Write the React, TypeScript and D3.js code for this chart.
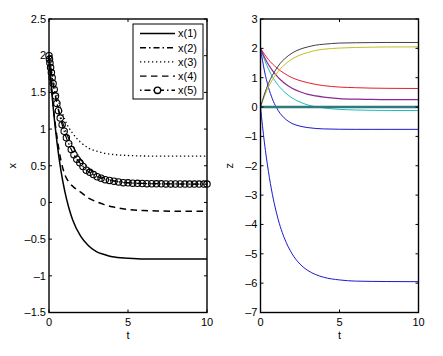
import React from 'react';
import * as d3 from 'd3';

// time grid for the smooth curves
const T = [0, 0.25, 0.5, 0.75, 1, 1.25, 1.5, 2, 2.5, 3, 3.5, 4, 5, 6, 7, 8, 10];

// left panel: x(1)..x(5)
const x1 = [2.0, 1.33, 0.83, 0.44, 0.15, -0.07, -0.24, -0.46, -0.59, -0.67, -0.71, -0.74, -0.76, -0.77, -0.77, -0.77, -0.77];
const x2 = [2.0, 1.62, 1.36, 1.16, 1.01, 0.87, 0.77, 0.59, 0.47, 0.38, 0.33, 0.30, 0.27, 0.26, 0.255, 0.252, 0.25];
const x3 = [2.0, 1.7, 1.46, 1.28, 1.13, 1.02, 0.94, 0.82, 0.74, 0.7, 0.67, 0.655, 0.64, 0.633, 0.63, 0.63, 0.63];
const x4 = [2.0, 1.35, 0.9, 0.58, 0.38, 0.28, 0.22, 0.14, 0.06, 0.01, -0.03, -0.06, -0.095, -0.11, -0.117, -0.12, -0.12];

// x(5) marker samples (solver steps)
const x5T = [0, 0.03, 0.06, 0.1, 0.15, 0.2, 0.26, 0.33, 0.41, 0.5, 0.6, 0.71, 0.83, 0.96, 1.1, 1.25, 1.41, 1.58, 1.76, 1.95, 2.15, 2.36, 2.58, 2.81, 3.05, 3.3, 3.56, 3.83, 4.11, 4.4, 4.7, 5.0, 5.3, 5.6, 5.9, 6.2, 6.5, 6.8, 7.1, 7.4, 7.7, 8.0, 8.3, 8.6, 8.9, 9.2, 9.5, 9.8, 10];
const x5 = [2.0, 1.95, 1.9, 1.84, 1.77, 1.7, 1.62, 1.54, 1.45, 1.35, 1.25, 1.15, 1.06, 0.97, 0.88, 0.8, 0.72, 0.65, 0.59, 0.54, 0.49, 0.44, 0.41, 0.38, 0.35, 0.33, 0.31, 0.3, 0.29, 0.28, 0.27, 0.267, 0.263, 0.26, 0.258, 0.256, 0.255, 0.254, 0.253, 0.252, 0.252, 0.251, 0.251, 0.25, 0.25, 0.25, 0.25, 0.25, 0.25];

// right panel: z components
const zGray = [0, 0.44, 0.8, 1.08, 1.3, 1.49, 1.63, 1.84, 1.97, 2.05, 2.11, 2.14, 2.18, 2.19, 2.196, 2.2, 2.2];
const zYellow = [0, 0.37, 0.68, 0.93, 1.13, 1.3, 1.43, 1.64, 1.77, 1.86, 1.93, 1.97, 2.01, 2.03, 2.04, 2.047, 2.05];
const zRed = [2.0, 1.8, 1.62, 1.47, 1.35, 1.24, 1.15, 1.0, 0.9, 0.83, 0.77, 0.73, 0.68, 0.66, 0.645, 0.638, 0.632];
const zPurple = [2.0, 1.7, 1.45, 1.25, 1.08, 0.94, 0.82, 0.64, 0.52, 0.43, 0.38, 0.34, 0.29, 0.27, 0.26, 0.254, 0.251];
const zCyan = [2.0, 1.62, 1.3, 1.04, 0.83, 0.66, 0.52, 0.31, 0.17, 0.07, 0.01, -0.03, -0.08, -0.1, -0.112, -0.116, -0.12];
const zBlue1 = [2.0, 1.23, 0.68, 0.28, -0.01, -0.22, -0.37, -0.56, -0.65, -0.7, -0.73, -0.745, -0.756, -0.76, -0.76, -0.76, -0.76];
const zBlue2 = [0, -1.22, -2.19, -2.97, -3.58, -4.07, -4.45, -5.0, -5.35, -5.57, -5.71, -5.8, -5.89, -5.93, -5.94, -5.945, -5.95];
const zZero = [0, 0, 0, 0, 0, 0, 0, 0, 0, 0, 0, 0, 0, 0, 0, 0, 0];

const xTicks = [0, 5, 10];
const leftYTicks = [2.5, 2, 1.5, 1, 0.5, 0, -0.5, -1, -1.5];
const rightYTicks = [3, 2, 1, 0, -1, -2, -3, -4, -5, -6, -7];
const legendLabels = ['x(1)', 'x(2)', 'x(3)', 'x(4)', 'x(5)'];

const FONT = "'Liberation Sans', Arial, sans-serif";
const FS = 11;

function fmt(v: number) {
  const s = String(Math.abs(v));
  return v < 0 ? '\u2013' + s : s;
}

function Axes({ x0, x1p, yTop, yBot, yDomain, yTicks, ylabel, ylabelX, children }: any) {
  const xs = d3.scaleLinear().domain([0, 10]).range([x0, x1p]);
  const ys = d3.scaleLinear().domain(yDomain).range([yBot, yTop]);
  const tl = 3;
  return (
    <g>
      {children(xs, ys)}
      <rect x={x0} y={yTop} width={x1p - x0} height={yBot - yTop} fill="none" stroke="#000" strokeWidth={1.4} />
      {xTicks.map((t) => (
        <g key={'xt' + t}>
          <line x1={xs(t)} x2={xs(t)} y1={yBot} y2={yBot - tl} stroke="#000" strokeWidth={1} />
          <line x1={xs(t)} x2={xs(t)} y1={yTop} y2={yTop + tl} stroke="#000" strokeWidth={1} />
          <text x={xs(t)} y={yBot + 13.5} fontSize={FS} fontFamily={FONT} textAnchor="middle">{t}</text>
        </g>
      ))}
      {yTicks.map((v: number) => (
        <g key={'yt' + v}>
          <line x1={x0} x2={x0 + tl} y1={ys(v)} y2={ys(v)} stroke="#000" strokeWidth={1} />
          <line x1={x1p} x2={x1p - tl} y1={ys(v)} y2={ys(v)} stroke="#000" strokeWidth={1} />
          <text x={x0 - 3} y={ys(v) + 3.8} fontSize={FS} fontFamily={FONT} textAnchor="end">{fmt(v)}</text>
        </g>
      ))}
      <text x={(x0 + x1p) / 2} y={yBot + 26.5} fontSize={FS} fontFamily={FONT} textAnchor="middle">t</text>
      <text transform={`translate(${ylabelX},${(yTop + yBot) / 2}) rotate(-90)`} fontSize={FS} fontFamily={FONT} textAnchor="middle">{ylabel}</text>
    </g>
  );
}

export default function App() {
  const W = 443, H = 356;
  const mkLine = (xs: any, ys: any, tArr: number[], vArr: number[]) =>
    d3.line<number>().x((_, i) => xs(tArr[i])).y((d) => ys(d)).curve(d3.curveMonotoneX)(vArr) as string;

  return (
    <svg width={W} height={H} style={{ position: 'absolute', left: 0, top: 0, background: '#fff' }}>
      <Axes x0={49} x1p={207} yTop={19} yBot={312.5} yDomain={[-1.5, 2.5]} yTicks={leftYTicks} ylabel="x" ylabelX={16}>
        {(xs: any, ys: any) => (
          <g>
            <path d={mkLine(xs, ys, T, x1)} fill="none" stroke="#000" strokeWidth={1.5} />
            <path d={mkLine(xs, ys, T, x2)} fill="none" stroke="#000" strokeWidth={1.2} strokeDasharray="6,3,1.5,3" />
            <path d={mkLine(xs, ys, T, x3)} fill="none" stroke="#000" strokeWidth={1.3} strokeDasharray="1.3,2.7" />
            <path d={mkLine(xs, ys, T, x4)} fill="none" stroke="#000" strokeWidth={1.5} strokeDasharray="6.5,4.5" />
            <path d={mkLine(xs, ys, x5T, x5)} fill="none" stroke="#000" strokeWidth={1.2} strokeDasharray="6,3,1.5,3" />
            {x5.map((v, i) => (
              <circle key={i} cx={xs(x5T[i])} cy={ys(v)} r={3.2} fill="none" stroke="#000" strokeWidth={1.1} />
            ))}
            {/* legend */}
            <rect x={133} y={24} width={70} height={75} fill="#fff" stroke="#000" strokeWidth={1} />
            {legendLabels.map((lab, i) => {
              const y = 33.5 + i * 14.2;
              const dash = [undefined, '6,3,1.5,3', '1.3,2.7', '6.5,4.5', '1.5,3,6,3'][i];
              return (
                <g key={lab}>
                  <line x1={140} x2={175} y1={y} y2={y} stroke="#000" strokeWidth={1.4} strokeDasharray={dash} />
                  {i === 4 && <circle cx={157.5} cy={y} r={3.2} fill="#fff" stroke="#000" strokeWidth={1.4} />}
                  <text x={178} y={y + 3.8} fontSize={FS} fontFamily={FONT}>{lab}</text>
                </g>
              );
            })}
          </g>
        )}
      </Axes>
      <Axes x0={260.5} x1p={418.5} yTop={19} yBot={312.5} yDomain={[-7, 3]} yTicks={rightYTicks} ylabel="z" ylabelX={233}>
        {(xs: any, ys: any) => (
          <g fill="none" strokeWidth={1}>
            <path d={mkLine(xs, ys, T, zBlue1)} stroke="#1a1acc" />
            <path d={mkLine(xs, ys, T, zRed)} stroke="#e2202c" />
            <path d={mkLine(xs, ys, T, zCyan)} stroke="#20bcbc" />
            <path d={mkLine(xs, ys, T, zPurple)} stroke="#8a2a94" strokeWidth={1.2} />
            <path d={mkLine(xs, ys, T, zYellow)} stroke="#c2c020" />
            <path d={mkLine(xs, ys, T, zGray)} stroke="#404048" />
            <path d={mkLine(xs, ys, T, zBlue2)} stroke="#1a1acc" />
            <path d={mkLine(xs, ys, T, zZero)} stroke="#2f7a7c" strokeWidth={2.4} />
          </g>
        )}
      </Axes>
    </svg>
  );
}
